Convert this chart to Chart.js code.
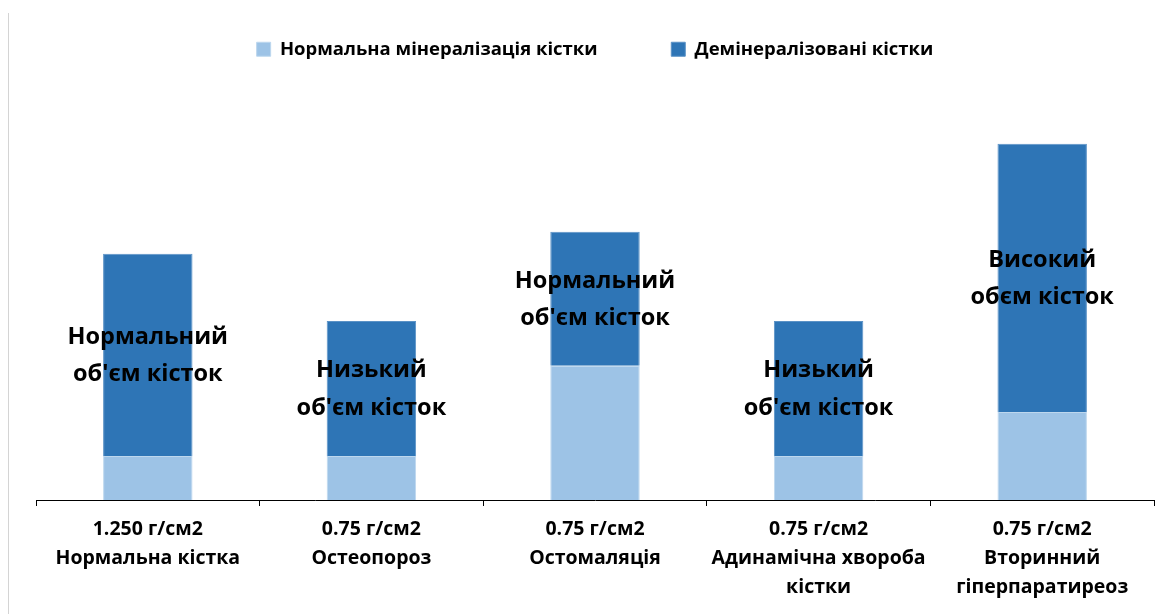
<!DOCTYPE html>
<html>
<head>
<meta charset="utf-8">
<script src="https://cdn.jsdelivr.net/npm/chart.js@4"></script>
<style>
  html, body { margin: 0; padding: 0; background: #fff; }
  #wrap { position: relative; width: 1167px; height: 614px; }
  #edge { position: absolute; left: 8px; top: 13px; bottom: 0; width: 1px; background: #d4d4d4; }
</style>
</head>
<body>
<div id="wrap">
  <div id="edge"></div>
  <canvas id="c" width="1167" height="614"></canvas>
</div>
<script>
const categories = [
  ["1.250 г/см2", "Нормальна кістка"],
  ["0.75 г/см2", "Остеопороз"],
  ["0.75 г/см2", "Остомаляція"],
  ["0.75 г/см2", "Адинамічна хвороба", "кістки"],
  ["0.75 г/см2", "Вторинний", "гіперпаратиреоз"]
];
const seriesNames = ["Нормальна мінералізація кістки", "Демінералізовані кістки"];
const normalMineral = [1, 1, 3.05, 1, 2];
const demineralized = [4.6, 3.07, 3.05, 3.07, 6.1];
const barNotes = [
  ["Нормальний", "об'єм кісток"],
  ["Низький", "об'єм кісток"],
  ["Нормальний", "об'єм кісток"],
  ["Низький", "об'єм кісток"],
  ["Високий", "обєм кісток"]
];

const FONT = "'Open Sans', 'Liberation Sans', sans-serif";

const legendHeight = {
  id: 'legendHeight',
  beforeInit(chart) {
    const orig = chart.legend.fit;
    chart.legend.fit = function () {
      orig.bind(this)();
      this.height = 80;
    };
  }
};

const notesPlugin = {
  id: 'notes',
  afterDatasetsDraw(chart) {
    const ctx = chart.ctx;
    const meta = chart.getDatasetMeta(1);
    ctx.save();
    ctx.font = "bold 23.5px " + FONT;
    ctx.fillStyle = '#000';
    ctx.textAlign = 'center';
    ctx.textBaseline = 'middle';
    const lh = 37.5;
    meta.data.forEach((el, i) => {
      const lines = barNotes[i];
      const cx = el.x;
      const cy = (el.y + el.base) / 2 + 1;
      const start = cy - (lines.length - 1) * lh / 2;
      lines.forEach((t, k) => ctx.fillText(t, cx, start + k * lh));
    });
    ctx.restore();
  }
};

const GAP = '\u00A0'.repeat(7);

new Chart(document.getElementById('c'), {
  type: 'bar',
  data: {
    labels: categories,
    datasets: [
      {
        label: seriesNames[0],
        data: normalMineral,
        backgroundColor: '#9DC3E6',
        borderColor: '#BDD7EE',
        borderWidth: 1,
        categoryPercentage: 1,
        barPercentage: 0.4
      },
      {
        label: seriesNames[1],
        data: demineralized,
        backgroundColor: '#2E75B6',
        borderColor: '#5B92C6',
        borderWidth: 1,
        categoryPercentage: 1,
        barPercentage: 0.4
      }
    ]
  },
  options: {
    responsive: false,
    animation: false,
    layout: { padding: { left: 36, right: 13, top: 0, bottom: 0 } },
    plugins: {
      legend: {
        position: 'top',
        labels: {
          boxWidth: 14,
          boxHeight: 14,
          padding: 40,
          color: '#000',
          font: { family: FONT, size: 18.5, weight: 'bold' },
          generateLabels(chart) {
            const items = Chart.defaults.plugins.legend.labels.generateLabels(chart);
            items.forEach((it, i) => { if (i < items.length - 1) it.text = it.text + GAP; });
            return items;
          }
        }
      },
      tooltip: { enabled: false }
    },
    scales: {
      x: {
        stacked: true,
        grid: {
          display: true,
          offset: true,
          drawOnChartArea: false,
          drawTicks: true,
          tickLength: 6,
          tickColor: '#000',
          color: '#000'
        },
        border: { display: true, color: '#000', width: 1 },
        ticks: {
          color: '#000',
          padding: 9,
          maxRotation: 0,
          autoSkip: false,
          font: { family: FONT, size: 19.5, weight: 'bold', lineHeight: 1.49 }
        },
        afterFit(scale) { scale.height = 114; }
      },
      y: {
        stacked: true,
        display: false,
        min: 0,
        max: 9.55
      }
    }
  },
  plugins: [legendHeight, notesPlugin]
});
</script>
</body>
</html>
